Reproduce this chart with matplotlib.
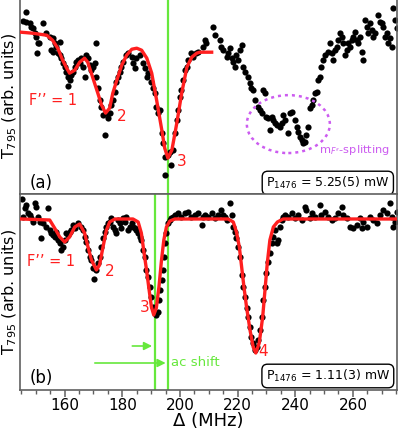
import matplotlib
matplotlib.use("Agg")
import matplotlib.pyplot as plt
from matplotlib.patches import Ellipse

# ---- panel (a): P1476 = 5.25(5) mW ----
a_x = [146.5, 145.5, 146.7, 147.8, 148.4, 149.0, 149.6, 150.2, 150.7, 151.1, 150.4, 152.5,
       153.6, 154.8, 155.9, 156.5, 157.1, 158.3, 155.4, 155.9, 157.7, 158.3, 158.8, 159.4,
       160.0, 160.6, 161.2, 161.7, 161.2, 162.3, 162.9, 163.5, 164.0, 164.6, 165.2, 165.8,
       166.4, 167.0, 167.5, 168.1, 168.7, 169.3, 169.8, 170.4, 170.8, 171.0, 171.6, 172.1,
       172.7, 173.3, 173.9, 174.5, 175.0, 175.6, 176.2, 176.8, 177.4, 177.9, 178.5, 179.1,
       179.7, 180.3, 181.4, 182.0, 183.2, 183.7, 184.3, 184.9, 186.0, 187.2, 187.8, 188.4,
       188.9, 190.1, 190.7, 191.3, 191.8, 192.4, 193.0, 193.6, 194.2, 194.7, 194.7, 195.9,
       196.5, 197.0, 197.6, 198.2, 198.8, 199.4, 199.9, 200.5, 201.1, 201.7, 202.3, 202.8,
       204.0, 204.6, 205.7, 206.3,
       208.1, 208.6, 209.2, 211.5, 212.1, 213.8, 214.4, 215.0, 216.2, 216.7, 217.3, 217.9,
       218.5, 219.1, 219.6, 220.2, 220.8, 221.4, 221.9, 222.5, 223.7, 224.3, 224.8, 225.4,
       226.0, 227.2, 227.7, 228.3, 228.9, 229.5, 230.0, 230.6, 231.2, 231.8, 232.4, 232.9,
       233.5, 234.7, 235.3, 235.8, 236.4, 237.6, 238.2, 238.7, 239.9, 240.5, 241.0, 241.6,
       242.2, 242.8, 243.4, 243.9, 244.5, 245.1, 245.7, 246.2, 246.8, 247.4, 248.0, 248.6,
       249.1, 249.7, 250.3, 251.5, 252.0, 252.6, 253.2, 253.8, 254.4, 254.9, 255.5, 256.1,
       256.7, 257.2, 257.8, 258.4, 259.0, 259.6, 260.1, 260.7, 261.3, 261.9, 262.5, 263.0,
       263.6, 264.2, 264.8, 265.4, 265.9, 266.5, 267.1, 267.7, 268.8, 269.4, 270.0, 270.6,
       271.1, 271.7, 272.3, 272.9, 273.5, 274.0, 274.6, 275.2]
a_t = [1.88, 1.79, 1.78, 1.77, 1.73, 1.72, 1.67, 1.63, 1.57, 1.57, 1.47, 1.77,
       1.67, 1.63, 1.62, 1.57, 1.53, 1.58, 1.50, 1.48, 1.47, 1.45, 1.42, 1.37,
       1.33, 1.28, 1.23, 1.20, 1.14, 1.25, 1.28, 1.33, 1.38, 1.40, 1.37, 1.42,
       1.33, 1.23, 1.45, 1.42, 1.35, 1.30, 1.33, 1.37, 1.57, 1.23, 1.12, 1.00,
       0.93, 0.85, 0.65, 0.87, 0.82, 0.87, 0.95, 1.00, 1.08, 1.18, 1.23, 1.28,
       1.33, 1.38, 1.45, 1.47, 1.43, 1.37, 1.32, 1.42, 1.45, 1.37, 1.32, 1.23,
       1.27, 1.18, 1.12, 1.07, 0.93, 0.87, 0.90, 0.67, 0.57, 0.43, 0.25, 0.45,
       0.48, 0.35, 0.50, 0.67, 0.80, 0.90, 1.03, 1.10, 1.20, 1.30, 1.33, 1.40,
       1.47, 1.43, 1.47, 1.48,
       1.53, 1.60, 1.57, 1.73, 1.65, 1.60, 1.53, 1.50, 1.43, 1.47, 1.52, 1.42,
       1.38, 1.33, 1.45, 1.40, 1.50, 1.55, 1.33, 1.28, 1.23, 1.17, 1.12, 1.10,
       1.00, 0.93, 0.90, 0.87, 1.10, 1.07, 0.83, 0.82, 0.70, 0.83, 0.80, 0.77,
       0.75, 0.73, 0.77, 0.85, 0.80, 0.67, 0.87, 0.88, 0.80, 0.73, 0.68, 0.63,
       0.60, 0.57, 0.58, 0.65, 0.73, 0.92, 0.95, 1.00, 1.07, 1.08, 1.20, 1.23,
       1.33, 1.40, 1.45, 1.48, 1.57, 1.47, 1.40, 1.50, 1.53, 1.60, 1.67, 1.63,
       1.57, 1.45, 1.50, 1.57, 1.53, 1.60, 1.63, 1.68, 1.60, 1.57, 1.63, 1.48,
       1.40, 1.80, 1.73, 1.67, 1.77, 1.70, 1.63, 1.67, 1.85, 1.78, 1.77, 1.73,
       1.63, 1.67, 1.57, 1.62, 1.53, 1.92, 1.80, 1.72]

a_fit_x = [145.0, 148.9, 153.8, 155.8, 157.6, 159.3, 160.7, 161.7, 163.5, 165.2, 166.9, 168.0,
           169.7, 171.5, 172.8, 174.2, 175.6, 176.7, 178.1, 179.8, 181.5, 183.3, 185.0, 186.7,
           188.5, 190.2, 191.9, 193.7, 194.7, 195.8, 197.2, 198.9, 200.6, 202.4, 204.1, 205.8,
           206.9, 211.0]
a_fit_t = [1.68, 1.67, 1.65, 1.60, 1.52, 1.40, 1.32, 1.27, 1.30, 1.38, 1.42, 1.38,
           1.23, 1.07, 0.95, 0.87, 0.92, 1.07, 1.20, 1.35, 1.45, 1.51, 1.52, 1.50,
           1.42, 1.27, 1.00, 0.70, 0.52, 0.42, 0.50, 0.77, 1.07, 1.33, 1.43, 1.47,
           1.48, 1.48]

# ---- panel (b): P1476 = 1.11(3) mW ----
b_x = [145.3, 146.1, 146.7, 147.3, 145.5, 147.8, 148.4, 149.0, 149.6, 150.2, 150.7, 151.3,
       151.9, 152.5, 153.6, 154.2, 154.8, 155.4, 155.9, 156.5, 157.1, 157.7, 158.3, 158.8,
       159.4, 160.0, 160.6, 161.2, 161.7, 162.3, 162.9, 163.5, 164.6, 165.8, 166.4, 167.0,
       167.5, 168.1, 168.7, 169.3, 169.8, 170.2, 171.0, 171.6, 172.1, 172.7, 173.3, 173.9,
       174.5, 175.0, 175.6, 176.2, 176.8, 177.4, 177.9, 178.5, 179.1, 179.7, 180.3, 180.8,
       181.4, 182.0, 182.6, 183.2, 183.7, 184.3, 184.9, 185.5, 186.0, 186.6, 187.2, 187.8,
       188.1, 188.9, 189.5, 190.1, 190.7, 191.3, 191.8, 192.4, 192.8, 193.2, 193.6, 194.1,
       194.4, 194.7, 195.3, 195.9, 196.5, 197.0, 197.6, 198.2, 199.4, 200.5, 201.7, 202.8,
       204.0, 205.1, 206.3,
       207.5, 208.1, 208.6, 209.8, 211.0, 212.1, 213.3, 214.4, 215.0, 215.6, 216.2, 217.3,
       217.9, 218.5, 219.1, 219.6, 220.2, 220.8, 221.4, 221.9, 222.5, 223.1, 223.7, 224.3,
       224.8, 225.4, 226.0, 226.6, 227.2, 227.7, 228.3, 228.9, 229.5, 230.0, 230.6, 231.2,
       231.8, 232.4, 232.9, 233.5, 234.1, 234.7, 235.3, 235.8, 236.4, 237.6, 238.7, 239.9,
       241.0, 242.2, 243.4, 243.9, 245.1, 245.7, 246.8, 248.6, 249.1, 250.3, 251.5, 252.6,
       253.8, 254.9, 256.1, 256.7, 257.8, 259.0, 260.1, 261.3, 262.5, 263.0, 263.6, 264.8,
       265.9, 267.1, 268.2, 269.4, 270.6, 271.7, 272.9, 273.5, 274.0, 274.6, 275.2]
b_t = [2.01, 1.92, 1.95, 1.87, 1.83, 1.85, 1.82, 1.78, 1.97, 1.93, 1.83, 1.78,
       1.62, 1.77, 1.73, 1.92, 1.70, 1.67, 1.65, 1.63, 1.68, 1.60, 1.57, 1.50,
       1.53, 1.60, 1.67, 1.65, 1.68, 1.70, 1.75, 1.72, 1.77, 1.73, 1.70, 1.63,
       1.58, 1.50, 1.43, 1.40, 1.32, 1.21, 1.30, 1.37, 1.43, 1.53, 1.62, 1.68,
       1.73, 1.77, 1.78, 1.82, 1.73, 1.70, 1.67, 1.80, 1.77, 1.72, 1.82, 1.78,
       1.83, 1.70, 1.73, 1.77, 1.73, 1.72, 1.70, 1.67, 1.63, 1.60, 1.50, 1.43,
       1.30, 1.23, 1.13, 1.03, 0.93, 0.87, 0.85, 0.88, 1.00, 1.10, 1.20, 1.30,
       1.43, 1.57, 1.67, 1.77, 1.80, 1.82, 1.83, 1.85, 1.87, 1.83, 1.87, 1.88,
       1.83, 1.85, 1.87,
       1.75, 1.83, 1.85, 1.83, 1.87, 1.82, 1.85, 1.90, 1.85, 1.83, 1.80, 1.97,
       1.85, 1.73, 1.68, 1.62, 1.53, 1.43, 1.25, 1.13, 1.03, 0.92, 0.83, 0.73,
       0.63, 0.57, 0.50, 0.53, 0.60, 0.70, 0.83, 1.00, 1.13, 1.27, 1.38, 1.47,
       1.57, 1.63, 1.70, 1.57, 1.60, 1.73, 1.80, 1.83, 1.85, 1.83, 1.87, 1.82,
       1.85, 1.80, 1.93, 1.90, 1.82, 1.87, 1.83, 1.95, 1.85, 1.88, 1.83, 1.80,
       1.82, 1.87, 1.93, 1.85, 1.82, 1.73, 1.72, 1.75, 1.82, 1.72, 1.78, 1.73,
       1.83, 1.80, 1.77, 1.85, 1.90, 1.87, 1.97, 1.83, 1.73, 1.78, 1.88]

b_fit_x = [145.0, 154.8, 156.5, 158.3, 160.0, 161.7, 163.5, 165.2, 166.9, 168.1, 169.3, 171.0,
           172.1, 173.3, 174.5, 175.6, 177.4, 183.7, 185.5, 186.6, 187.4, 188.4, 189.3, 190.1,
           190.9, 191.8, 192.7, 193.6, 194.4, 195.3, 196.5, 198.2, 216.7, 218.5, 219.6, 220.6,
           221.4, 222.2, 223.1, 224.3, 225.4, 226.3, 227.5, 228.7, 229.5, 230.3, 231.2, 232.4,
           233.8, 235.8, 275.3]
b_fit_t = [1.81, 1.80, 1.72, 1.63, 1.58, 1.63, 1.73, 1.76, 1.67, 1.53, 1.40, 1.30,
           1.35, 1.53, 1.70, 1.78, 1.81, 1.81, 1.78, 1.67, 1.50, 1.30, 1.10, 0.93,
           0.85, 0.92, 1.13, 1.40, 1.60, 1.73, 1.79, 1.81, 1.81, 1.78, 1.68, 1.53,
           1.33, 1.13, 0.93, 0.70, 0.53, 0.47, 0.57, 0.83, 1.10, 1.37, 1.60, 1.73,
           1.78, 1.81, 1.81]

line_shifted = 191.3
line_free = 196.0
ticks = [160, 180, 200, 220, 240, 260]

red = '#ff1f1f'
green = '#66e83c'
violet = '#cc5cf0'
frame = '#606060'

fig = plt.figure(figsize=(3.98, 4.30), dpi=100)
ax1 = fig.add_axes([20/398, (430-194)/430, 377/398, 194/430 + 0.004])
ax2 = fig.add_axes([20/398, 40/430, 377/398, 196/430])

for ax in (ax1, ax2):
    ax.set_xlim(144.5, 275.3)
    ax.set_yticks([])
    for s in ax.spines.values():
        s.set_color(frame)
        s.set_linewidth(1.2)
    ax.set_ylabel('T$_{795}$ (arb. units)', fontsize=11.5, va='center')
    ax.yaxis.set_label_coords(-0.027, 0.5)

ax1.set_ylim(0.06, 2.02)
ax2.set_ylim(0.10, 2.06)

box = dict(boxstyle='round,pad=0.3,rounding_size=0.45', fc='white', ec='black', lw=1.0)

# panel a
ax1.axvline(line_free, color=green, lw=1.6, zorder=1)
ax1.scatter(a_x, a_t, s=20, color='black', zorder=2, linewidths=0)
ax1.plot(a_fit_x, a_fit_t, color=red, lw=2.4, zorder=3)
ax1.set_xticks([])
ax1.text(147.6, 1.00, "F\u2019\u2019 = 1", color=red, fontsize=10.5, va='center')
ax1.text(178.0, 0.84, '2', color=red, fontsize=11, va='center')
ax1.text(199.0, 0.39, '3', color=red, fontsize=11, va='center')
ax1.text(148.0, 0.17, '(a)', fontsize=12, va='center')
ax1.add_patch(Ellipse((237.6, 0.76), 28.8, 0.58, fill=False, ec=violet, lw=1.8,
                      ls=(0, (1.2, 1.6)), zorder=4))
ax1.text(248.2, 0.50, "m$_{F''}$-splitting", color=violet, fontsize=8.2, va='center')
ax1.text(251.3, 0.17, 'P$_{1476}$ = 5.25(5) mW', fontsize=9, ha='center', va='center',
         bbox=box)

# panel b
ax2.axvline(line_shifted, color=green, lw=1.6, zorder=1)
ax2.axvline(line_free, color=green, lw=1.6, zorder=1)
ax2.scatter(b_x, b_t, s=20, color='black', zorder=2, linewidths=0)
ax2.plot(b_fit_x, b_fit_t, color=red, lw=2.4, zorder=3)
ax2.text(146.9, 1.38, "F\u2019\u2019 = 1", color=red, fontsize=10.5, va='center')
ax2.text(173.9, 1.28, '2', color=red, fontsize=11, va='center')
ax2.text(186.0, 0.92, '3', color=red, fontsize=11, va='center')
ax2.text(227.0, 0.48, '4', color=red, fontsize=11, va='center')
ax2.annotate('', xy=(line_shifted, 0.54), xytext=(182.5, 0.54),
             arrowprops=dict(arrowstyle='-|>', color=green, lw=1.2, mutation_scale=12))
ax2.annotate('', xy=(line_free, 0.37), xytext=(169.5, 0.37),
             arrowprops=dict(arrowstyle='-|>', color=green, lw=1.2, mutation_scale=12))
ax2.text(196.8, 0.38, 'ac shift', color=green, fontsize=9.5, va='center')
ax2.text(148.0, 0.22, '(b)', fontsize=12, va='center')
ax2.text(251.3, 0.24, 'P$_{1476}$ = 1.11(3) mW', fontsize=9, ha='center', va='center',
         bbox=box)

ax2.set_xticks(ticks)
ax2.set_xticks(range(145, 276, 5), minor=True)
ax2.tick_params(axis='x', which='major', direction='out', length=5, width=1.1,
                color=frame, labelsize=11, pad=1)
ax2.tick_params(axis='x', which='minor', direction='out', length=3, width=1.0, color=frame)
ax2.set_xlabel('Δ (MHz)', fontsize=13, labelpad=-1)

fig.savefig('out.png', dpi=100)
